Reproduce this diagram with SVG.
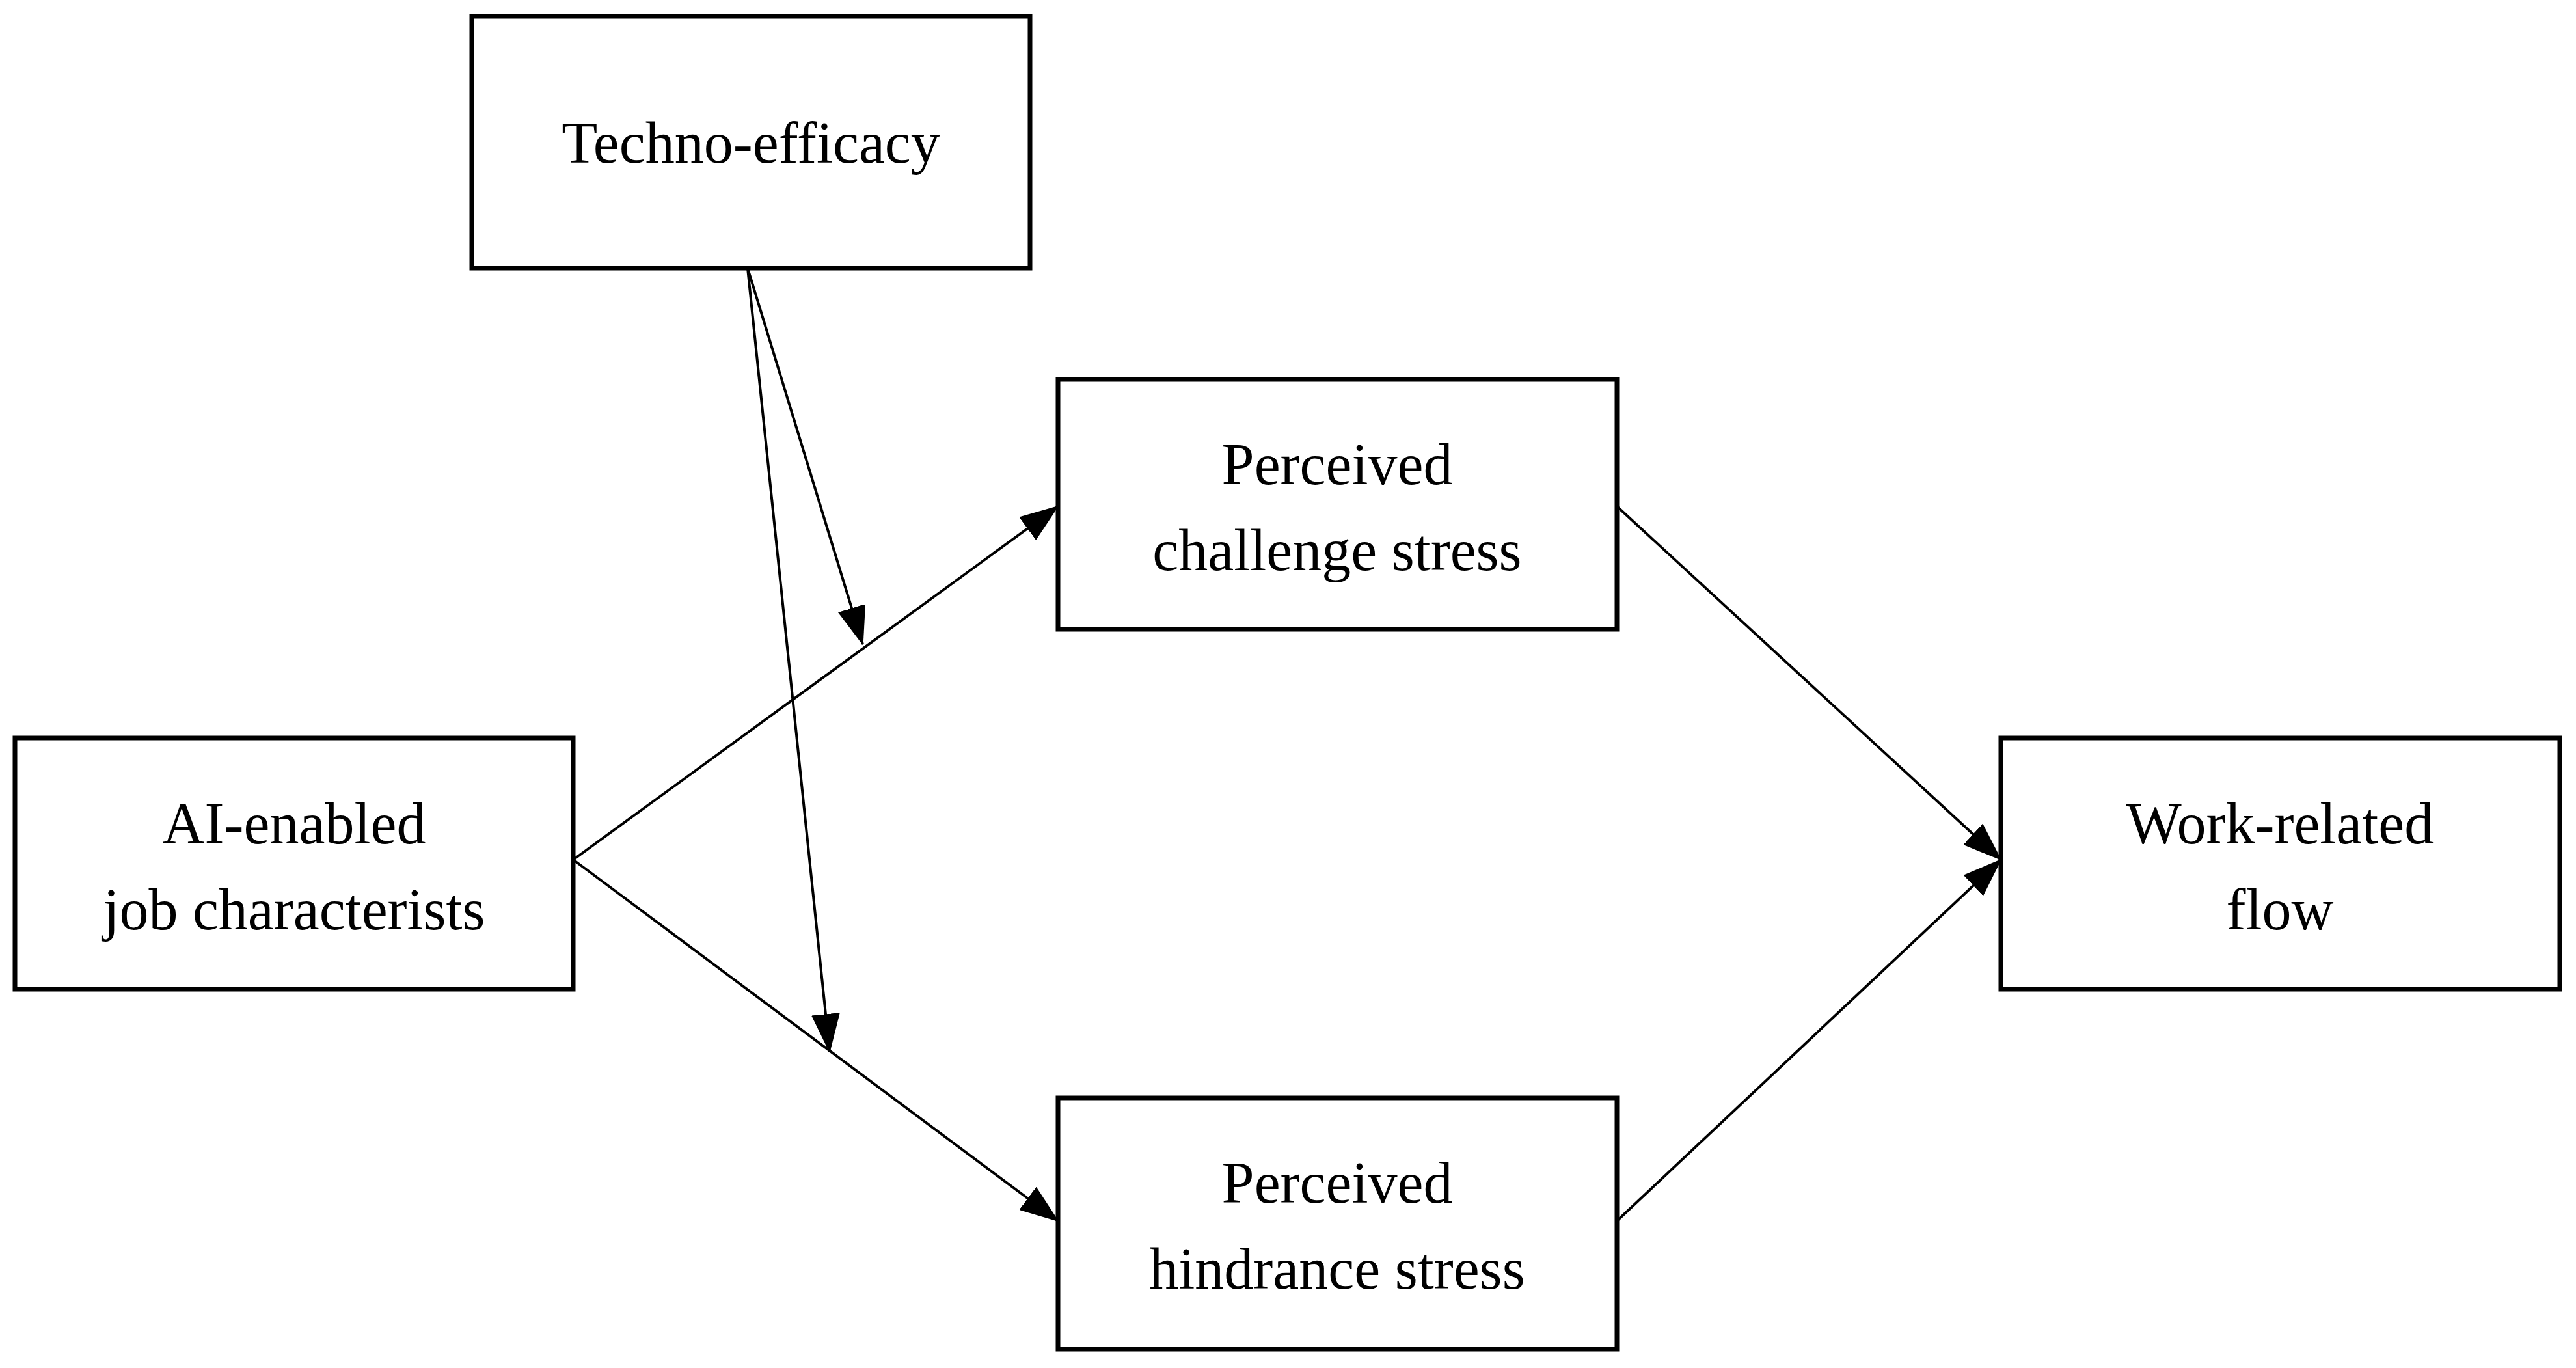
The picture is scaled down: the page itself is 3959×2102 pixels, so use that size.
<svg xmlns="http://www.w3.org/2000/svg" width="3959" height="2102" viewBox="0 0 3959 2102">
<style>
.box{fill:#fff;stroke:#000;stroke-width:7}
.t{font-family:"Liberation Serif",serif;font-size:90px;text-anchor:middle;fill:#000}
.c{stroke:#000;stroke-width:4;fill:none;marker-end:url(#a)}
</style>
<defs><marker id="a" markerUnits="userSpaceOnUse" markerWidth="60" markerHeight="44" refX="58" refY="22" orient="auto"><path d="M0,0 L60,22 L0,44 Z" fill="#000"/></marker></defs>
<rect width="3959" height="2102" fill="#fff"/>
<g id="connectors">
<line class="c" x1="881" y1="1321" x2="1626" y2="778"/>
<line class="c" x1="881" y1="1321" x2="1626" y2="1876"/>
<line class="c" x1="2485" y1="778" x2="3075" y2="1321"/>
<line class="c" x1="2485" y1="1876" x2="3075" y2="1321"/>
<line class="c" x1="1149" y1="412" x2="1326" y2="990"/>
<line class="c" x1="1149" y1="412" x2="1275" y2="1616"/>
</g>
<g id="techno"><rect class="box" x="725" y="25" width="858" height="387"/><text class="t" x="1154" y="250">Techno-efficacy</text></g>
<g id="challenge"><rect class="box" x="1626" y="583" width="859" height="384"/><text class="t" x="2055" y="744">Perceived</text><text class="t" x="2055" y="876">challenge stress</text></g>
<g id="ai"><rect class="box" x="23" y="1134" width="858" height="386"/><text class="t" x="452" y="1296">AI-enabled</text><text class="t" x="452" y="1428">job characterists</text></g>
<g id="flow"><rect class="box" x="3075" y="1134" width="859" height="386"/><text class="t" x="3504" y="1296">Work-related</text><text class="t" x="3504" y="1428">flow</text></g>
<g id="hindrance"><rect class="box" x="1626" y="1687" width="859" height="386"/><text class="t" x="2055" y="1848">Perceived</text><text class="t" x="2055" y="1980">hindrance stress</text></g>
</svg>
